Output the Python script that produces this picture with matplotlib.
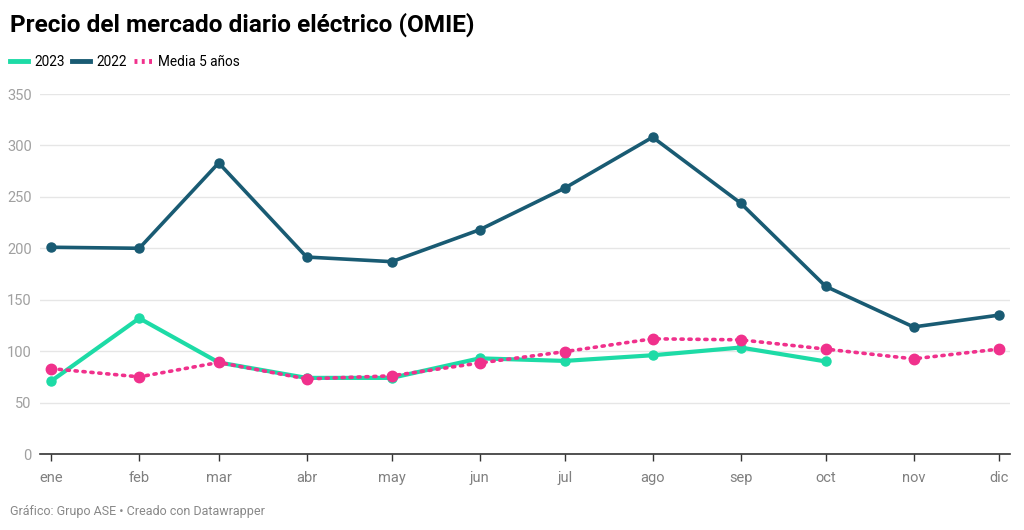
import matplotlib.pyplot as plt
from matplotlib.lines import Line2D
import numpy as np
import datetime as dt

plt.rcParams['font.family'] = ['Roboto', 'DejaVu Sans']

meses = ["ene", "feb", "mar", "abr", "may", "jun", "jul", "ago", "sep", "oct", "nov", "dic"]
fechas = [dt.date(2022, m, 1) for m in range(1, 13)]

precio_2023 = [71, 132, 89, 74, 74, 93, 90.5, 96, 103.5, 90]
precio_2022 = [201, 200, 283, 191.5, 187, 218, 258.5, 308, 244, 163, 123.5, 135]
media_5 = [83, 75, 89, 73, 76, 88.5, 99.5, 112, 111, 102, 92.5, 102]

c23 = "#1ddba6"
c22 = "#195b73"
cmed = "#f0318c"

fig = plt.figure(figsize=(10.24, 5.30), dpi=100)
ax = fig.add_axes([40/1024, 76/530, 970/1024, 360/530])

ax.plot(fechas, precio_2022, color=c22, lw=2.6, marker="o", ms=6.5, zorder=3)
ax.plot(fechas, media_5, color=cmed, lw=2.6, ls=(0, (0.6, 1.6)), dash_capstyle="round",
        marker="o", ms=7.5, zorder=4)
ax.plot(fechas[:len(precio_2023)], precio_2023, color=c23, lw=3, marker="o", ms=6.5, zorder=3)

ax.set_ylim(0, 350)
ax.set_yticks(np.arange(0, 351, 50))
ax.set_xlim(fechas[0] - dt.timedelta(days=4), fechas[-1] + dt.timedelta(days=4.2))
ax.set_xticks(fechas)
ax.set_xticklabels(meses)

ax.grid(axis="y", color="#e6e6e6", lw=1)
ax.set_axisbelow(True)
for s in ["top", "right", "left"]:
    ax.spines[s].set_visible(False)
ax.spines["bottom"].set_color("#333333")
ax.spines["bottom"].set_linewidth(1.2)
ax.tick_params(axis="y", length=0, pad=6, labelsize=10.5, labelcolor="#a0a0a0")
ax.tick_params(axis="x", length=5, width=1, color="#333333", pad=7, labelsize=10.5, labelcolor="#808080")

fig.text(10/1024, 1 - 25/530, "Precio del mercado diario eléctrico (OMIE)", fontsize=17.6,
         fontweight="bold", va="center", ha="left", color="#000000")

handles = [Line2D([], [], color=c23, lw=3.5),
           Line2D([], [], color=c22, lw=3.5),
           Line2D([], [], color=cmed, lw=3.5, ls=(0, (0.6, 0.9)))]
fig.legend(handles, ["2023", "2022", "Media 5 años"], loc="center left",
           bbox_to_anchor=(10/1024, 1 - 62/530), ncol=3, frameon=False,
           borderpad=0, borderaxespad=0,
           handlelength=1.35, handletextpad=0.45, columnspacing=0.5, fontsize=9.8)

fig.text(10/1024, 1 - 511/530, "Gráfico: Grupo ASE • Creado con Datawrapper", fontsize=9,
         color="#888888", va="center", ha="left")

fig.savefig("out.png", dpi=100)
